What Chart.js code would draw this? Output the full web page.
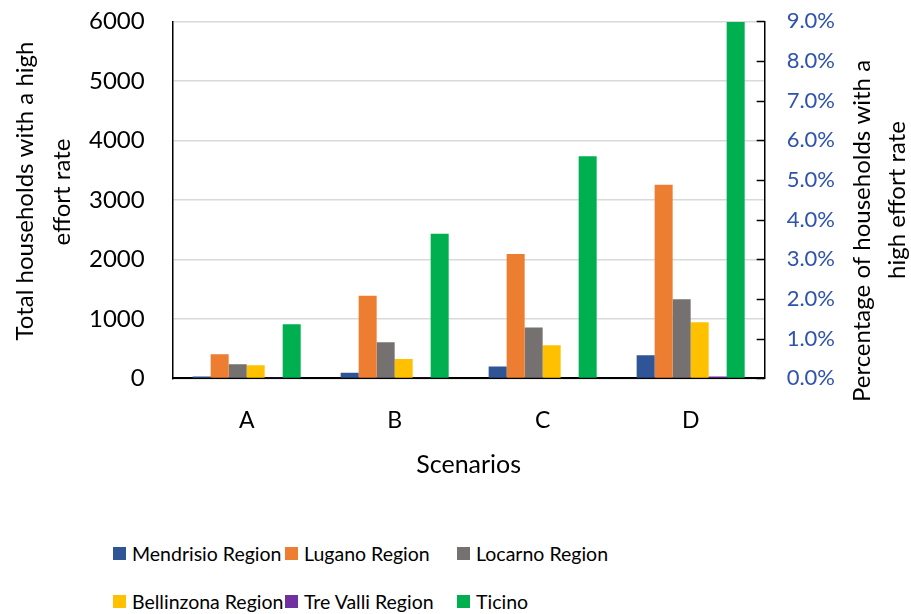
<!DOCTYPE html>
<html>
<head>
<meta charset="utf-8">
<script src="https://cdn.jsdelivr.net/npm/chart.js@4"></script>
<style>
  body { margin: 0; background: #fff; font-family: Lato, "Open Sans", sans-serif; overflow: hidden; }
  #wrap { position: relative; width: 911px; height: 614px; overflow: hidden; }
  #box { position: absolute; left: 0; top: -21px; width: 911px; height: 511px; }
  #legend { position: absolute; left: 113px; top: 536px; display: grid;
            grid-template-columns: 172px 172px 200px; row-gap: 14px; font-size: 19.5px; color: #000; }
  .item { display: flex; align-items: center; height: 34px; white-space: nowrap; }
  .sw { flex: 0 0 13px; width: 13px; height: 13px; margin-right: 6px; }
</style>
</head>
<body>
<div id="wrap">
  <div id="box"><canvas id="chart"></canvas></div>
  <div id="legend"></div>
</div>
<script>
// Datos
const escenarios = ['A', 'B', 'C', 'D'];
const regiones = ['Mendrisio Region', 'Lugano Region', 'Locarno Region', 'Bellinzona Region', 'Tre Valli Region', 'Ticino'];
const colores = ['#2F5597', '#ED7D31', '#767171', '#FFC000', '#7030A0', '#00B050'];

const mendrisio = [30, 95, 200, 390];
const lugano = [405, 1390, 2090, 3255];
const locarno = [236, 607, 855, 1332];
const bellinzona = [220, 325, 556, 944];
const treValli = [3, 6, 10, 32];
const ticino = [910, 2430, 3735, 5990];

const series = [mendrisio, lugano, locarno, bellinzona, treValli, ticino];

const tituloIzq = ['Total households with a high', 'effort rate'];
const tituloDer = ['Percentage of households with a', 'high effort rate'];

// Leyenda en 3 columnas
const legend = document.getElementById('legend');
regiones.forEach((r, i) => {
  legend.innerHTML += `<div class="item"><span class="sw" style="background:${colores[i]}"></span>${r}</div>`;
});

const fuente = 'Lato, "Open Sans", sans-serif';
const desfase = 21; // el canvas empieza 21px por encima de la página

// Títulos verticales (ambos girados hacia arriba) y marcas hacia dentro del eje derecho
const extras = {
  id: 'extras',
  afterDraw(chart) {
    const ctx = chart.ctx;
    const s = chart.scales.y1;
    ctx.save();
    ctx.strokeStyle = '#000';
    ctx.lineWidth = 1.5;
    s.ticks.forEach((t, i) => {
      const y = Math.round(s.getPixelForTick(i)) + 0.5;
      ctx.beginPath();
      ctx.moveTo(s.left - 8, y);
      ctx.lineTo(s.left, y);
      ctx.stroke();
    });

    const texto = (str, x, y) => {
      ctx.save();
      ctx.translate(x, y + desfase);
      ctx.rotate(-Math.PI / 2);
      ctx.fillText(str, 0, 0);
      ctx.restore();
    };
    ctx.fillStyle = '#000';
    ctx.font = '24px ' + fuente;
    ctx.textAlign = 'center';
    ctx.textBaseline = 'middle';
    texto(tituloIzq[0], 25, 191);
    texto(tituloIzq[1], 62, 192);
    texto(tituloDer[0], 862, 231);
    texto(tituloDer[1], 897, 200);
    ctx.restore();
  }
};

new Chart(document.getElementById('chart'), {
  type: 'bar',
  data: {
    labels: escenarios,
    datasets: regiones.map((r, i) => ({
      label: r,
      data: series[i],
      backgroundColor: colores[i],
      yAxisID: 'y'
    }))
  },
  options: {
    responsive: true,
    maintainAspectRatio: false,
    animation: false,
    layout: { padding: { left: 61, right: 54, top: 0, bottom: 6 } },
    datasets: { bar: { barPercentage: 1, categoryPercentage: 0.73 } },
    plugins: { legend: { display: false }, tooltip: { enabled: false } },
    scales: {
      x: {
        grid: { display: false, drawTicks: false },
        border: { color: '#000', width: 2 },
        ticks: { color: '#000', font: { family: fuente, size: 23 }, padding: 28 },
        title: { display: true, text: 'Scenarios', color: '#000', font: { family: fuente, size: 25 }, padding: { top: -12, bottom: 4 } }
      },
      y: {
        position: 'left',
        min: 0, max: 6000,
        ticks: { stepSize: 1000, color: '#000', font: { family: fuente, size: 24 }, padding: 28,
                 callback: v => String(v) },
        grid: { color: '#D9D9D9', lineWidth: 1.5, drawTicks: false },
        border: { color: '#000', width: 1.5 }
      },
      y1: {
        position: 'right',
        min: 0, max: 0.09,
        ticks: { stepSize: 0.01, color: '#2F52AE', font: { family: fuente, size: 22 }, padding: 22,
                 callback: v => (v * 100).toFixed(1) + '%' },
        grid: { drawOnChartArea: false, drawTicks: false },
        border: { color: '#000', width: 1.5 }
      }
    }
  },
  plugins: [extras]
});
</script>
</body>
</html>
